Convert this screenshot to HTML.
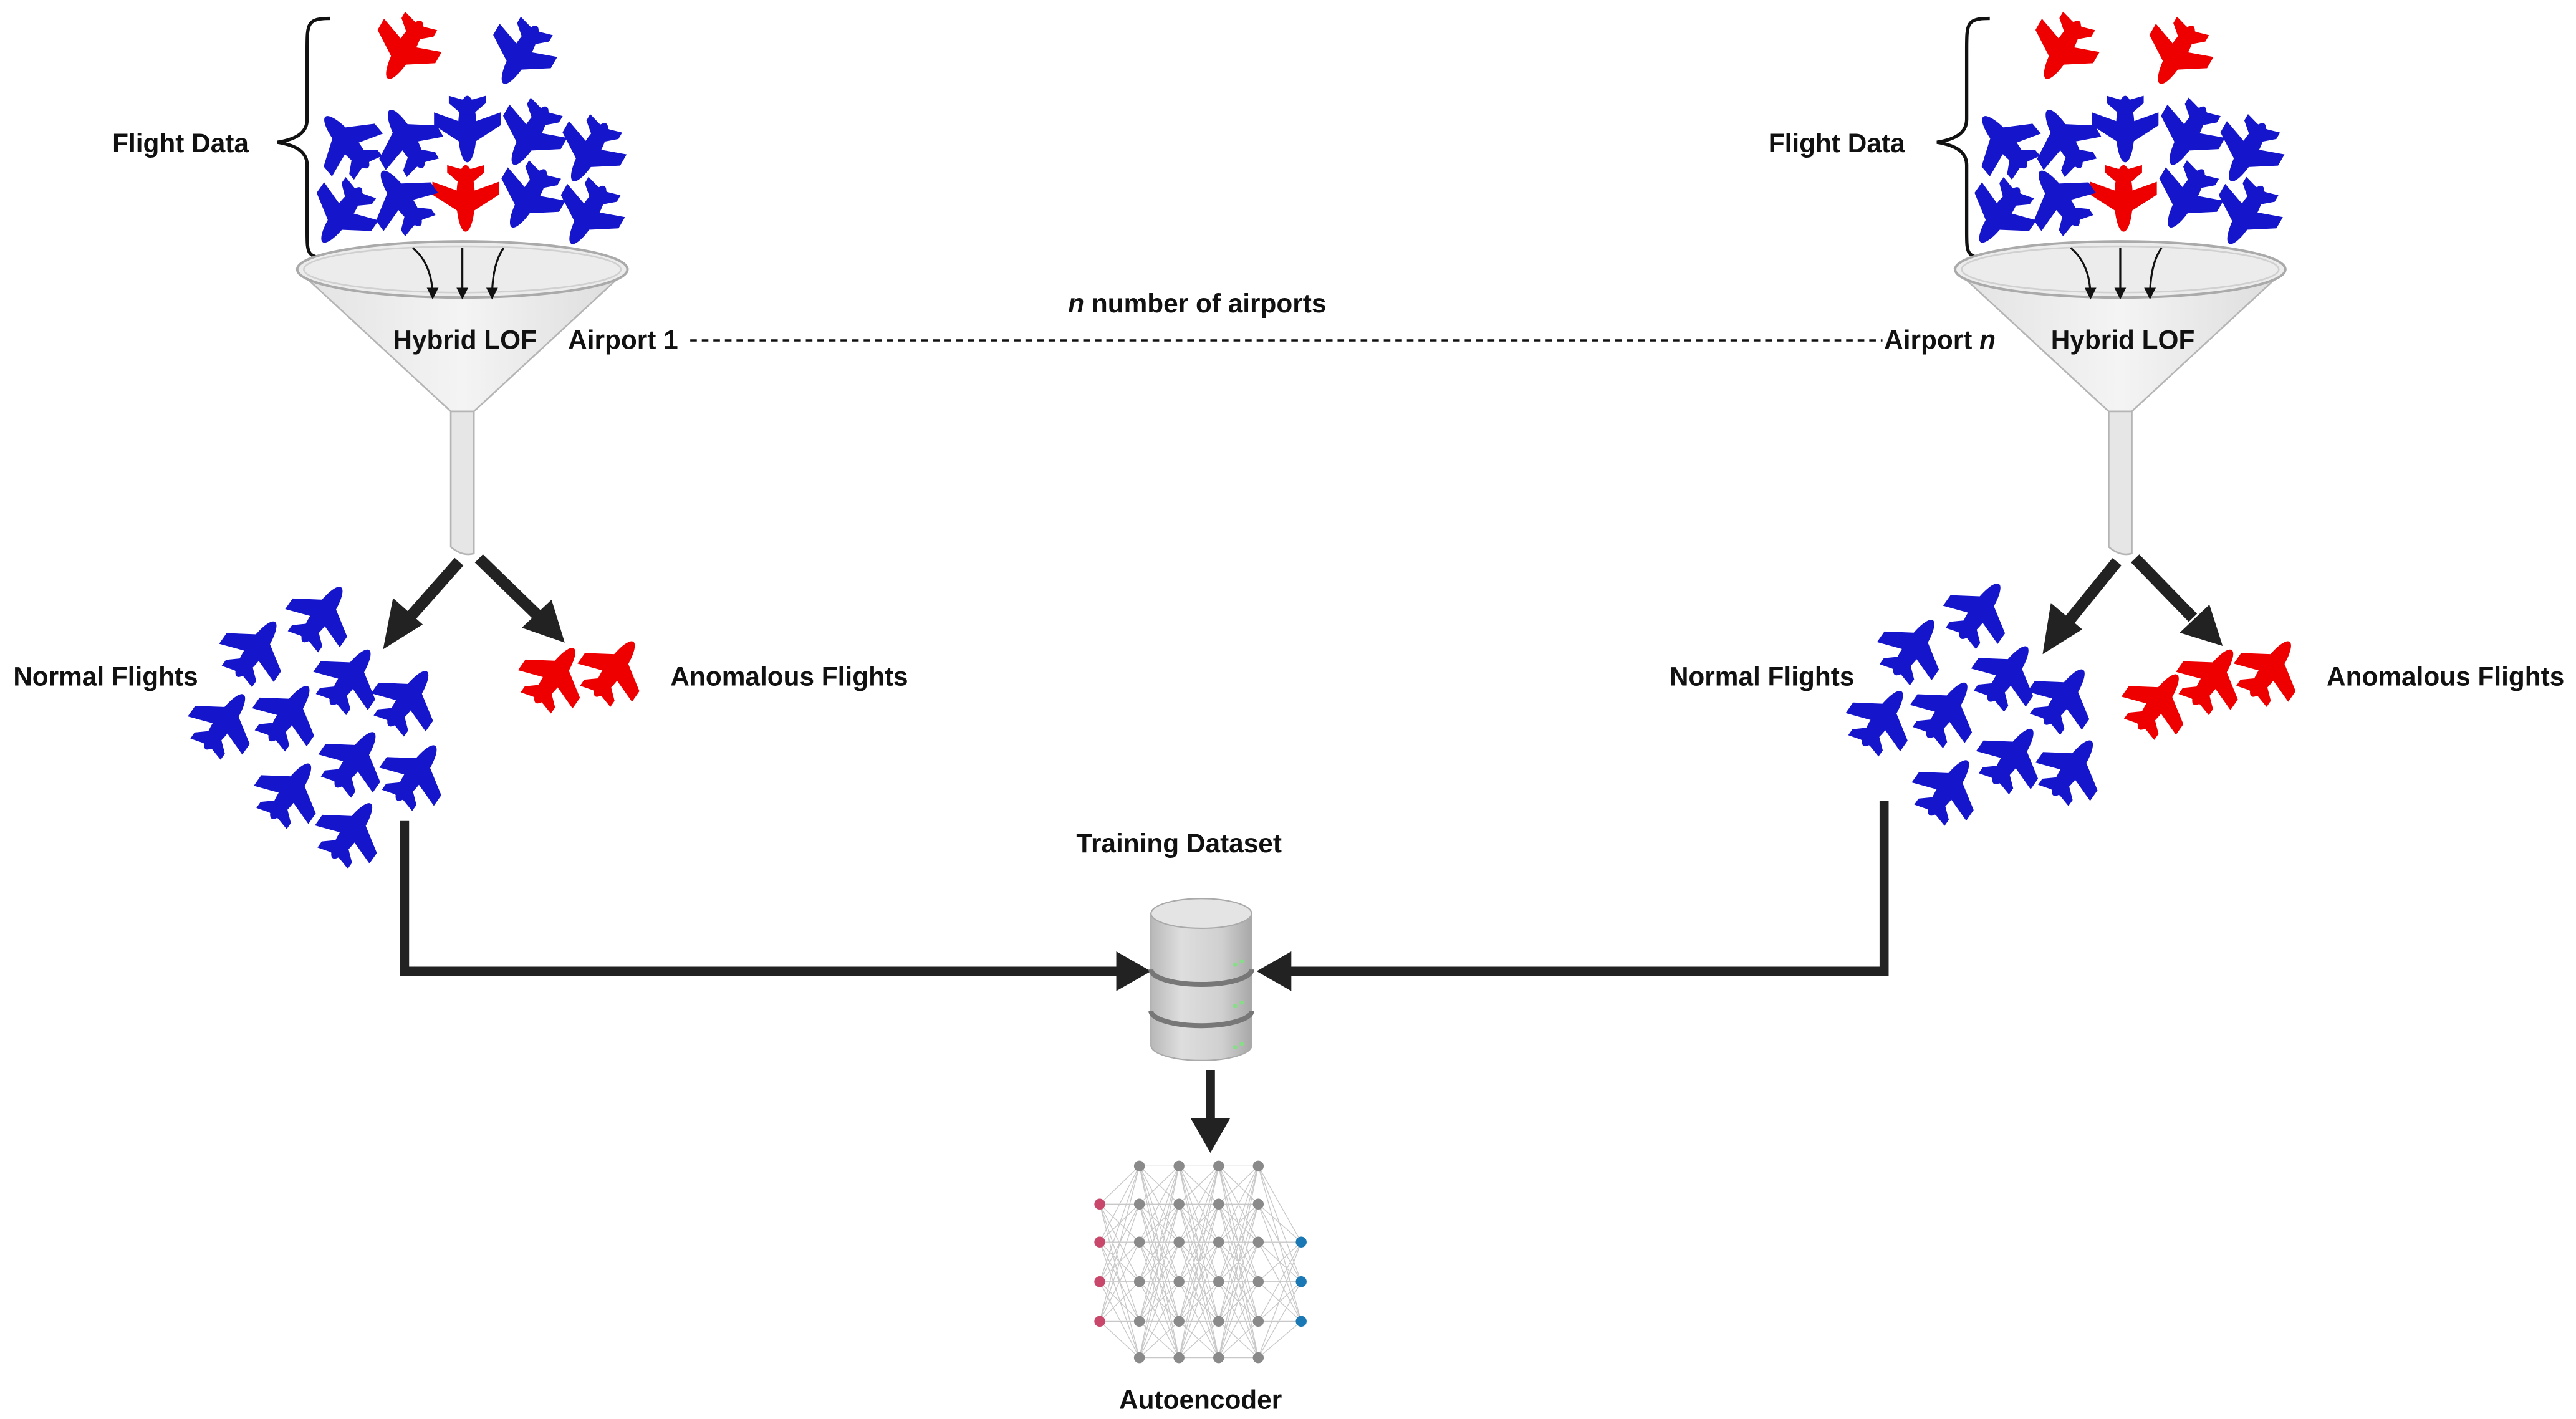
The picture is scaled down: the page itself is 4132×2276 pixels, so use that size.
<!DOCTYPE html>
<html><head><meta charset="utf-8"><style>
html,body{margin:0;padding:0;background:#fff;}
svg{display:block;}
text{font-family:"Liberation Sans",sans-serif;font-weight:bold;fill:#111;}
</style></head><body>
<svg width="4132" height="2276" viewBox="0 0 1560 859" xmlns="http://www.w3.org/2000/svg">
<defs>
<g id="pl" transform="scale(1.12)">
<ellipse cx="0" cy="0" rx="5" ry="18"/>
<polygon points="-4,-7 -18,2 -18,9 -4,4 4,4 18,9 18,2 4,-7"/>
<polygon points="-3,8 -10,14 -10,18 -3,16 3,16 10,18 10,14 3,8"/>
</g>
<linearGradient id="fg" x1="0" x2="1"><stop offset="0" stop-color="#e2e2e2"/><stop offset="0.5" stop-color="#f4f4f4"/><stop offset="1" stop-color="#dcdcdc"/></linearGradient>
<linearGradient id="cg" x1="0" x2="1"><stop offset="0" stop-color="#b8b8b8"/><stop offset="0.3" stop-color="#dedede"/><stop offset="0.7" stop-color="#d0d0d0"/><stop offset="1" stop-color="#a8a8a8"/></linearGradient>
<g id="funnel">
<path d="M-100,0 L-7,86 L7,86 L100,0 Z" fill="url(#fg)" stroke="#b5b5b5" stroke-width="1"/>
<path d="M-7,86 L-7,168 Q0,174 7,172 L7,86 Z" fill="#e6e6e6" stroke="#b5b5b5" stroke-width="1"/>
<ellipse cx="0" cy="0" rx="100" ry="17" fill="#ececec" stroke="#aaa" stroke-width="1.5"/>
<ellipse cx="0" cy="0" rx="96" ry="14" fill="none" stroke="#d0d0d0" stroke-width="1"/>
</g>
<marker id="sa" markerWidth="6" markerHeight="6" refX="5" refY="3" orient="auto" markerUnits="strokeWidth"><path d="M0,0 L6,3 L0,6 Z" fill="#111"/></marker>
<path id="b66" d="M0,0L24,0M0,0L24,23M0,0L24,46M0,0L24,70M0,0L24,94M0,0L24,116
M0,23L24,0M0,23L24,23M0,23L24,46M0,23L24,70M0,23L24,94M0,23L24,116
M0,46L24,0M0,46L24,23M0,46L24,46M0,46L24,70M0,46L24,94M0,46L24,116
M0,70L24,0M0,70L24,23M0,70L24,46M0,70L24,70M0,70L24,94M0,70L24,116
M0,94L24,0M0,94L24,23M0,94L24,46M0,94L24,70M0,94L24,94M0,94L24,116
M0,116L24,0M0,116L24,23M0,116L24,46M0,116L24,70M0,116L24,94M0,116L24,116" fill="none" stroke="#c8c8c8" stroke-width="0.5"/>
</defs>

<!-- LEFT top -->
<path d="M200,11 C186,11 186,14 186,30 L186,72 C186,80 180,84 168,86 C180,88 186,92 186,100 L186,140 C186,154 186,156 200,156" fill="none" stroke="#111" stroke-width="2"/>
<text x="68" y="92" font-size="16">Flight Data</text>
<g fill="#e00">
<use href="#pl" transform="translate(245,30) rotate(-150)"/>
<use href="#pl" transform="translate(282,120) rotate(180)"/>
</g>
<g fill="#1515cc">
<use href="#pl" transform="translate(315,33) rotate(-150)"/>
<use href="#pl" transform="translate(210,86) rotate(-40)"/>
<use href="#pl" transform="translate(246,84) rotate(-30)"/>
<use href="#pl" transform="translate(283,78) rotate(180)"/>
<use href="#pl" transform="translate(321,82) rotate(-150)"/>
<use href="#pl" transform="translate(357,92) rotate(-150)"/>
<use href="#pl" transform="translate(207,130) rotate(-145)"/>
<use href="#pl" transform="translate(243,120) rotate(-35)"/>
<use href="#pl" transform="translate(320,120) rotate(-150)"/>
<use href="#pl" transform="translate(356,130) rotate(-150)"/>
</g>
<use href="#funnel" x="280" y="163"/>
<g stroke="#111" stroke-width="1.2" fill="none" marker-end="url(#sa)">
<path d="M250,150 Q262,160 262,180"/><path d="M280,150 L280,180"/><path d="M305,150 Q298,160 298,180"/>
</g>
<text x="238" y="211" font-size="16">Hybrid LOF</text>
<text x="344" y="211" font-size="16">Airport 1</text>
<line x1="418" y1="206" x2="1140" y2="206" stroke="#111" stroke-width="1.3" stroke-dasharray="4,3"/>
<text x="725" y="189" font-size="16" text-anchor="middle"><tspan font-style="italic">n</tspan> number of airports</text>
<text x="1141" y="211" font-size="16">Airport <tspan font-style="italic">n</tspan></text>

<!-- RIGHT top -->
<path d="M1205,11 C1191,11 1191,14 1191,30 L1191,72 C1191,80 1185,84 1173,86 C1185,88 1191,92 1191,100 L1191,140 C1191,154 1191,156 1205,156" fill="none" stroke="#111" stroke-width="2"/>
<text x="1071" y="92" font-size="16">Flight Data</text>
<g fill="#e00">
<use href="#pl" transform="translate(1249,30) rotate(-150)"/>
<use href="#pl" transform="translate(1318,33) rotate(-150)"/>
<use href="#pl" transform="translate(1286,120) rotate(180)"/>
</g>
<g fill="#1515cc">
<use href="#pl" transform="translate(1214,86) rotate(-40)"/>
<use href="#pl" transform="translate(1250,84) rotate(-30)"/>
<use href="#pl" transform="translate(1287,78) rotate(180)"/>
<use href="#pl" transform="translate(1325,82) rotate(-150)"/>
<use href="#pl" transform="translate(1361,92) rotate(-150)"/>
<use href="#pl" transform="translate(1211,130) rotate(-145)"/>
<use href="#pl" transform="translate(1247,120) rotate(-35)"/>
<use href="#pl" transform="translate(1324,120) rotate(-150)"/>
<use href="#pl" transform="translate(1360,130) rotate(-150)"/>
</g>
<use href="#funnel" x="1284" y="163"/>
<g stroke="#111" stroke-width="1.2" fill="none" marker-end="url(#sa)">
<path d="M1254,150 Q1266,160 1266,180"/><path d="M1284,150 L1284,180"/><path d="M1309,150 Q1302,160 1302,180"/>
</g>
<text x="1242" y="211" font-size="16">Hybrid LOF</text>

<!-- split arrows -->
<g stroke="#222" stroke-width="7" fill="none">
<line x1="278" y1="340" x2="247" y2="375"/><line x1="290" y1="338" x2="325" y2="372"/>
<line x1="1282" y1="340" x2="1252" y2="377"/><line x1="1293" y1="338" x2="1328" y2="374"/>
</g>
<g fill="#222">
<polygon points="232,393 238,362 256,378"/>
<polygon points="342,389 316,380 334,363"/>
<polygon points="1237,396 1242,365 1261,381"/>
<polygon points="1346,391 1320,383 1338,366"/>
</g>

<!-- Normal flights left -->
<text x="8" y="415" font-size="16">Normal Flights</text>
<text x="406" y="415" font-size="16">Anomalous Flights</text>
<g fill="#1515cc">
<use href="#pl" transform="translate(195,372) rotate(35)"/>
<use href="#pl" transform="translate(155,393) rotate(35)"/>
<use href="#pl" transform="translate(212,410) rotate(35)"/>
<use href="#pl" transform="translate(136,437) rotate(35)"/>
<use href="#pl" transform="translate(175,432) rotate(35)"/>
<use href="#pl" transform="translate(247,423) rotate(35)"/>
<use href="#pl" transform="translate(215,460) rotate(35)"/>
<use href="#pl" transform="translate(252,468) rotate(35)"/>
<use href="#pl" transform="translate(176,479) rotate(35)"/>
<use href="#pl" transform="translate(213,503) rotate(35)"/>
</g>
<g fill="#e00">
<use href="#pl" transform="translate(336,409) rotate(35)"/>
<use href="#pl" transform="translate(372,405) rotate(35)"/>
</g>
<!-- Normal flights right -->
<text x="1011" y="415" font-size="16">Normal Flights</text>
<text x="1409" y="415" font-size="16">Anomalous Flights</text>
<g fill="#1515cc">
<use href="#pl" transform="translate(1199,370) rotate(35)"/>
<use href="#pl" transform="translate(1159,392) rotate(35)"/>
<use href="#pl" transform="translate(1216,408) rotate(35)"/>
<use href="#pl" transform="translate(1140,435) rotate(35)"/>
<use href="#pl" transform="translate(1179,430) rotate(35)"/>
<use href="#pl" transform="translate(1250,422) rotate(35)"/>
<use href="#pl" transform="translate(1219,458) rotate(35)"/>
<use href="#pl" transform="translate(1255,465) rotate(35)"/>
<use href="#pl" transform="translate(1180,477) rotate(35)"/>
</g>
<g fill="#e00">
<use href="#pl" transform="translate(1307,425) rotate(35)"/>
<use href="#pl" transform="translate(1340,410) rotate(35)"/>
<use href="#pl" transform="translate(1375,405) rotate(35)"/>
</g>

<!-- connectors -->
<g stroke="#222" stroke-width="5.5" fill="none">
<polyline points="245,497 245,588 680,588"/>
<polyline points="1141,485 1141,588 778,588"/>
<line x1="733" y1="648" x2="733" y2="680"/>
</g>
<g fill="#222">
<polygon points="697,588 676,576 676,600"/>
<polygon points="761,588 782,576 782,600"/>
<polygon points="733,698 721,677 745,677"/>
</g>

<!-- database -->
<text x="714" y="516" font-size="16" text-anchor="middle">Training Dataset</text>
<g>
<path d="M697,553 L697,633 A30.5,9 0 0 0 758,633 L758,553 Z" fill="url(#cg)" stroke="#aaa" stroke-width="0.8"/>
<ellipse cx="727.5" cy="553" rx="30.5" ry="9" fill="#e4e4e4" stroke="#aaa" stroke-width="0.8"/>
<path d="M697,587 A30.5,9 0 0 0 758,587" fill="none" stroke="#777" stroke-width="3"/>
<path d="M697,612 A30.5,9 0 0 0 758,612" fill="none" stroke="#777" stroke-width="3"/>
<g fill="#8d8"><circle cx="748" cy="584" r="1.3"/><circle cx="752" cy="582" r="1.3"/><circle cx="748" cy="609" r="1.3"/><circle cx="752" cy="607" r="1.3"/><circle cx="748" cy="634" r="1.3"/><circle cx="752" cy="632" r="1.3"/></g>
</g>

<!-- neural net -->
<use href="#b66" x="690" y="706"/>
<use href="#b66" x="714" y="706"/>
<use href="#b66" x="738" y="706"/>
<path d="M666,729L690,706M666,729L690,729M666,729L690,752M666,729L690,776M666,729L690,800M666,729L690,822
M666,752L690,706M666,752L690,729M666,752L690,752M666,752L690,776M666,752L690,800M666,752L690,822
M666,776L690,706M666,776L690,729M666,776L690,752M666,776L690,776M666,776L690,800M666,776L690,822
M666,800L690,706M666,800L690,729M666,800L690,752M666,800L690,776M666,800L690,800M666,800L690,822
M762,706L788,752M762,706L788,776M762,706L788,800
M762,729L788,752M762,729L788,776M762,729L788,800
M762,752L788,752M762,752L788,776M762,752L788,800
M762,776L788,752M762,776L788,776M762,776L788,800
M762,800L788,752M762,800L788,776M762,800L788,800
M762,822L788,752M762,822L788,776M762,822L788,800" fill="none" stroke="#c8c8c8" stroke-width="0.5"/>
<g fill="#c8476a"><circle cx="666" cy="729" r="3.3"/><circle cx="666" cy="752" r="3.3"/><circle cx="666" cy="776" r="3.3"/><circle cx="666" cy="800" r="3.3"/></g>
<g fill="#8a8a8a">
<circle cx="690" cy="706" r="3.3"/><circle cx="690" cy="729" r="3.3"/><circle cx="690" cy="752" r="3.3"/><circle cx="690" cy="776" r="3.3"/><circle cx="690" cy="800" r="3.3"/><circle cx="690" cy="822" r="3.3"/>
<circle cx="714" cy="706" r="3.3"/><circle cx="714" cy="729" r="3.3"/><circle cx="714" cy="752" r="3.3"/><circle cx="714" cy="776" r="3.3"/><circle cx="714" cy="800" r="3.3"/><circle cx="714" cy="822" r="3.3"/>
<circle cx="738" cy="706" r="3.3"/><circle cx="738" cy="729" r="3.3"/><circle cx="738" cy="752" r="3.3"/><circle cx="738" cy="776" r="3.3"/><circle cx="738" cy="800" r="3.3"/><circle cx="738" cy="822" r="3.3"/>
<circle cx="762" cy="706" r="3.3"/><circle cx="762" cy="729" r="3.3"/><circle cx="762" cy="752" r="3.3"/><circle cx="762" cy="776" r="3.3"/><circle cx="762" cy="800" r="3.3"/><circle cx="762" cy="822" r="3.3"/>
</g>
<g fill="#1a78b4"><circle cx="788" cy="752" r="3.3"/><circle cx="788" cy="776" r="3.3"/><circle cx="788" cy="800" r="3.3"/></g>
<text x="727" y="853" font-size="16" text-anchor="middle">Autoencoder</text>
</svg>
</body></html>
